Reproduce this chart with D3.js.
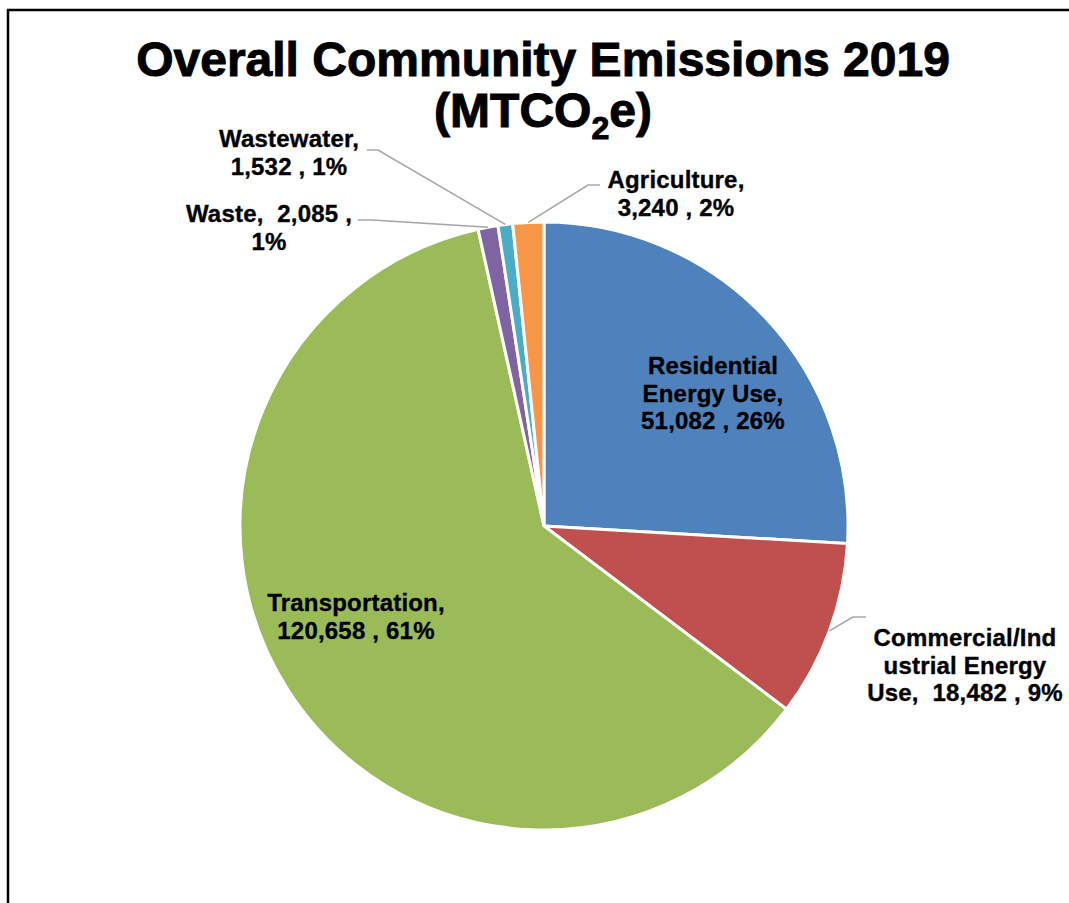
<!DOCTYPE html>
<html>
<head>
<meta charset="utf-8">
<script src="https://cdn.jsdelivr.net/npm/d3@7"></script>
<style>
  html, body { margin: 0; padding: 0; background: #fff; }
  svg { display: block; }
  text { font-family: "Liberation Sans", Arial, sans-serif; font-weight: bold; fill: #000; white-space: pre; }
</style>
</head>
<body>
<svg id="chart" width="1069" height="903"></svg>
<script>
// Community emissions by sector, 2019 (MTCO2e), clockwise from 12 o'clock
const categories = ["Residential Energy Use", "Commercial/Industrial Energy Use", "Transportation", "Waste", "Wastewater", "Agriculture"];
const emissions = [51082, 18482, 120658, 2085, 1532, 3240];
const sliceColors = ["#4F81BD", "#C0504D", "#9BBB59", "#8064A2", "#4BACC6", "#F79646"];

// Wrapped data-label lines; {v} = value, {p} = percent of total
const labelLines = [
  ["Residential", "Energy Use,", "{v} , {p}"],
  ["Commercial/Ind", "ustrial Energy", "Use,  {v} , {p}"],
  ["Transportation,", "{v} , {p}"],
  ["Waste,  {v} ,", "{p}"],
  ["Wastewater,", "{v} , {p}"],
  ["Agriculture,", "{v} , {p}"]
];

const cx = 544, cy = 526, R = 304;

const svg = d3.select("#chart");

// outer frame
svg.append("rect")
  .attr("x", 8).attr("y", 10)
  .attr("width", 1200).attr("height", 1000)
  .attr("fill", "none").attr("stroke", "#000").attr("stroke-width", 2.5);

// title
const title = svg.append("text").attr("text-anchor", "middle").attr("font-size", 48)
  .attr("stroke", "#000").attr("stroke-width", 1);
title.append("tspan").attr("x", 543).attr("y", 76).text("Overall Community Emissions 2019");
const t2 = svg.append("text").attr("text-anchor", "middle").attr("font-size", 48)
  .attr("stroke", "#000").attr("stroke-width", 1)
  .attr("x", 543).attr("y", 127);
t2.append("tspan").text("(MTCO");
t2.append("tspan").attr("font-size", 32).attr("dy", 12).text("2");
t2.append("tspan").attr("dy", -12).text("e)");

const data = categories.map((c, i) => ({ name: c, value: emissions[i], color: sliceColors[i], lines: labelLines[i] }));
const total = d3.sum(emissions);
const fmt = d3.format(",");

const pie = d3.pie().value(d => d.value).sort(null).startAngle(0).endAngle(2 * Math.PI);
const arcs = pie(data);
const arc = d3.arc().innerRadius(0).outerRadius(R);
const edgeArc = d3.arc().innerRadius(R).outerRadius(R);

const g = svg.append("g").attr("transform", `translate(${cx},${cy})`);
g.selectAll("path.slice")
  .data(arcs)
  .join("path")
  .attr("class", "slice")
  .attr("d", arc)
  .attr("fill", d => d.data.color)
  .attr("stroke", "#fff")
  .attr("stroke-width", 3)
  .attr("stroke-linejoin", "miter");

// label placement: text centre x, first baseline y, optional leader elbow + end (relative to centre)
const labelLayout = {
  "Residential Energy Use": { x: 169, y: -152 },
  "Commercial/Industrial Energy Use": { x: 421, y: 120, elbow: [309, 91], end: [322, 91] },
  "Transportation": { x: -188, y: 85 },
  "Waste": { x: -275, y: -304, elbow: [-172, -306], end: [-186, -306] },
  "Wastewater": { x: -255, y: -379, elbow: [-166, -376], end: [-177, -376] },
  "Agriculture": { x: 132, y: -338, elbow: [44, -341], end: [56, -341] }
};

const lineH = 27.5;

arcs.forEach(a => {
  const d = a.data;
  const L = labelLayout[d.name];
  const pct = Math.round(d.value / total * 100) + "%";
  const lines = d.lines.map(s => s.replace("{v}", fmt(d.value)).replace("{p}", pct));

  if (L.elbow) {
    const p0 = edgeArc.centroid(a);
    g.append("polyline")
      .attr("points", [p0, L.elbow, L.end].map(p => p.join(",")).join(" "))
      .attr("fill", "none")
      .attr("stroke", "#A6A6A6")
      .attr("stroke-width", 1.5);
  }

  const t = g.append("text")
    .attr("text-anchor", "middle")
    .attr("font-size", 24)
    .attr("letter-spacing", 0.2)
    .attr("stroke", "#000")
    .attr("stroke-width", 0.35);
  lines.forEach((s, i) => {
    t.append("tspan").attr("x", L.x).attr("y", L.y + i * lineH).text(s);
  });
});
</script>
</body>
</html>
